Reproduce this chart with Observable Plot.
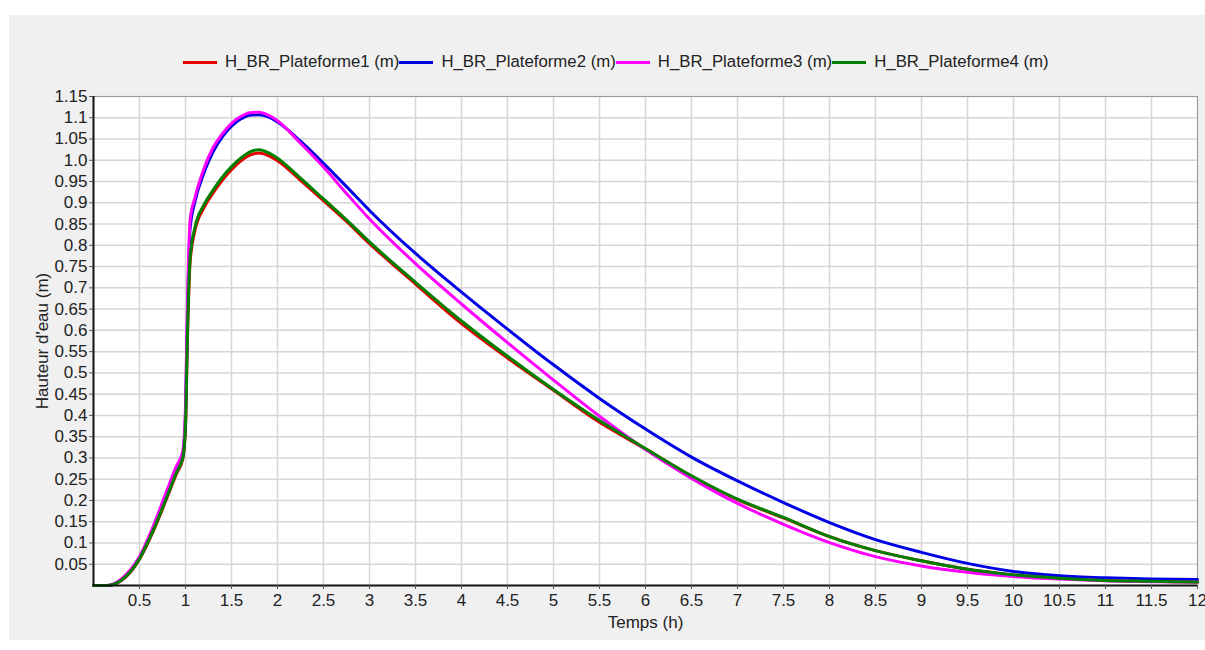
<!DOCTYPE html>
<html>
<head>
<meta charset="utf-8">
<script src="https://cdn.jsdelivr.net/npm/d3@7"></script>
<script src="https://cdn.jsdelivr.net/npm/@observablehq/plot@0.6"></script>
<style>
  html, body { margin: 0; padding: 0; background: #ffffff; width: 1205px; height: 650px; overflow: hidden; }
  #panel { position: absolute; left: 9px; top: 15px; width: 1196px; height: 625px; background: #f0f0f0; }
  #chart { position: absolute; left: 0; top: 0; }
  #legend { position: absolute; left: 183px; top: 52px; display: flex; align-items: center;
            font-family: "Liberation Sans", Arial, sans-serif; font-size: 16.8px; color: #222; white-space: nowrap; }
  #legend .sw { display: inline-block; width: 34px; height: 3px; margin-right: 8px; }
  #legend .item { display: flex; align-items: center; }
</style>
</head>
<body>
<div id="panel"></div>
<div id="chart"></div>
<div id="legend"></div>
<script>
// ---- data ----
const seriesNames = ["H_BR_Plateforme1 (m)", "H_BR_Plateforme2 (m)", "H_BR_Plateforme3 (m)", "H_BR_Plateforme4 (m)"];
const seriesColors = ["#e80000", "#0000e6", "#ff00ff", "#008000"];
const times = [0, 0.15, 0.3, 0.5, 0.65, 0.8, 0.9, 0.97, 1.0, 1.02, 1.05, 1.1, 1.2, 1.3, 1.4, 1.5, 1.6, 1.7, 1.8, 1.9, 2.0, 2.25, 2.5, 2.75, 3, 3.5, 4, 4.5, 5, 5.5, 6, 6.5, 7, 7.5, 8, 8.5, 9, 9.5, 10, 10.5, 11, 11.5, 12];
const plateforme1 = [0, 0, 0.011, 0.062, 0.128, 0.207, 0.262, 0.297, 0.37, 0.57, 0.76, 0.832, 0.888, 0.923, 0.953, 0.978, 0.998, 1.012, 1.017, 1.011, 0.999, 0.953, 0.905, 0.856, 0.804, 0.709, 0.616, 0.535, 0.459, 0.384, 0.321, 0.257, 0.202, 0.159, 0.115, 0.082, 0.058, 0.038, 0.025, 0.017, 0.012, 0.01, 0.008];
const plateforme2 = [0, 0, 0.013, 0.065, 0.135, 0.215, 0.27, 0.305, 0.40, 0.62, 0.84, 0.9, 0.97, 1.02, 1.055, 1.08, 1.097, 1.106, 1.107, 1.102, 1.09, 1.045, 0.993, 0.938, 0.882, 0.781, 0.69, 0.603, 0.519, 0.44, 0.368, 0.302, 0.246, 0.195, 0.148, 0.108, 0.078, 0.052, 0.033, 0.023, 0.018, 0.015, 0.014];
const plateforme3 = [0, 0, 0.015, 0.068, 0.14, 0.225, 0.28, 0.315, 0.42, 0.65, 0.86, 0.91, 0.98, 1.03, 1.062, 1.087, 1.103, 1.112, 1.113, 1.106, 1.093, 1.04, 0.984, 0.922, 0.862, 0.757, 0.662, 0.571, 0.483, 0.398, 0.32, 0.252, 0.193, 0.144, 0.101, 0.068, 0.046, 0.031, 0.021, 0.015, 0.011, 0.009, 0.008];
const plateforme4 = [0, 0, 0.012, 0.063, 0.13, 0.21, 0.265, 0.30, 0.38, 0.58, 0.77, 0.84, 0.895, 0.93, 0.96, 0.985, 1.005, 1.02, 1.025, 1.018, 1.005, 0.958, 0.909, 0.86, 0.808, 0.713, 0.622, 0.539, 0.461, 0.388, 0.322, 0.258, 0.203, 0.16, 0.115, 0.082, 0.058, 0.038, 0.025, 0.017, 0.012, 0.01, 0.008];
const xTicks = [0.5, 1, 1.5, 2, 2.5, 3, 3.5, 4, 4.5, 5, 5.5, 6, 6.5, 7, 7.5, 8, 8.5, 9, 9.5, 10, 10.5, 11, 11.5, 12];
const xTickLabels = ["0.5","1","1.5","2","2.5","3","3.5","4","4.5","5","5.5","6","6.5","7","7.5","8","8.5","9","9.5","10","10.5","11","11.5","12"];
const yTicks = [0.05, 0.1, 0.15, 0.2, 0.25, 0.3, 0.35, 0.4, 0.45, 0.5, 0.55, 0.6, 0.65, 0.7, 0.75, 0.8, 0.85, 0.9, 0.95, 1.0, 1.05, 1.1, 1.15];
const yTickLabels = ["0.05","0.1","0.15","0.2","0.25","0.3","0.35","0.4","0.45","0.5","0.55","0.6","0.65","0.7","0.75","0.8","0.85","0.9","0.95","1.0","1.05","1.1","1.15"];

const allSeries = [plateforme1, plateforme2, plateforme3, plateforme4];
const rows = [];
allSeries.forEach((vals, si) => vals.forEach((v, i) => rows.push({t: times[i], h: v, s: seriesNames[si]})));

const font = "'Liberation Sans', Arial, sans-serif";
const chart = Plot.plot({
  width: 1205,
  height: 650,
  marginLeft: 93,
  marginRight: 8,
  marginTop: 96,
  marginBottom: 65,
  style: {background: "transparent", fontFamily: font, fontSize: "17px", color: "#222", overflow: "visible"},
  x: {domain: [0, 12]},
  y: {domain: [0, 1.15]},
  color: {domain: seriesNames, range: seriesColors},
  marks: [
    Plot.frame({fill: "white", stroke: null}),
    Plot.gridX(xTicks, {stroke: "#d6d6d6", strokeOpacity: 1, strokeWidth: 1.5}),
    Plot.gridY(yTicks, {stroke: "#d6d6d6", strokeOpacity: 1, strokeWidth: 1.5}),
    Plot.frame({stroke: "#9a9a9a", strokeWidth: 1}),
    Plot.line(rows, {x: "t", y: "h", z: "s", stroke: "s", strokeWidth: 3, curve: "monotone-x"}),
    Plot.ruleX([0], {stroke: "#111", strokeWidth: 2}),
    Plot.ruleY([0], {stroke: "#111", strokeWidth: 2}),
    Plot.axisX(xTicks, {tickSize: 4, tickPadding: 4, fontSize: 17, fill: "#222", stroke: "#555",
      tickFormat: (d) => xTickLabels[xTicks.indexOf(d)],
      label: "Temps (h)", labelAnchor: "center", labelArrow: "none", labelOffset: 42}),
    Plot.axisY(yTicks, {tickSize: 4, tickPadding: 2, fontSize: 17, fill: "#222", stroke: "#555",
      tickFormat: (d) => yTickLabels[yTicks.indexOf(d)],
      label: "Hauteur d'eau (m)", labelAnchor: "center", labelArrow: "none", labelOffset: 58})
  ]
});
document.getElementById("chart").appendChild(chart);

const legend = document.getElementById("legend");
seriesNames.forEach((n, i) => {
  const item = document.createElement("div");
  item.className = "item";
  const sw = document.createElement("span");
  sw.className = "sw";
  sw.style.background = seriesColors[i];
  item.appendChild(sw);
  const tx = document.createElement("span");
  tx.textContent = n;
  item.appendChild(tx);
  legend.appendChild(item);
});
</script>
</body>
</html>
